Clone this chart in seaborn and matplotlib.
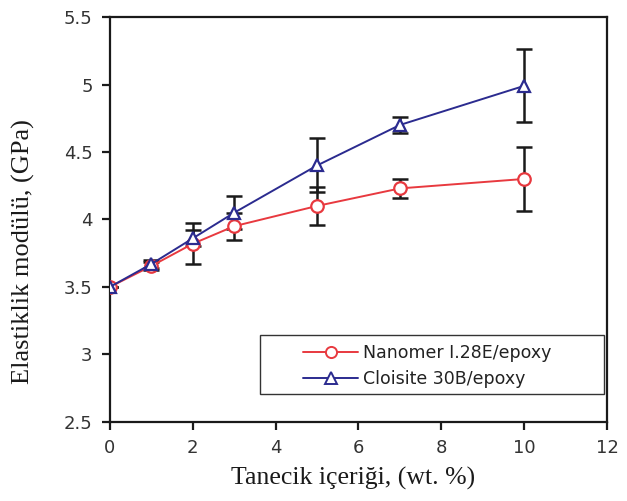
import matplotlib
matplotlib.use("Agg")
import matplotlib.pyplot as plt
from matplotlib.lines import Line2D
from matplotlib.patches import Rectangle
import seaborn as sns
import pandas as pd

# Filler content (wt. %) and measured elastic modulus (GPa)
content = [0, 1, 2, 3, 5, 7, 10]
nanomer_mean = [3.50, 3.655, 3.82, 3.95, 4.10, 4.23, 4.30]
nanomer_err = [0.0, 0.03, 0.15, 0.10, 0.14, 0.07, 0.24]
cloisite_mean = [3.50, 3.67, 3.86, 4.05, 4.40, 4.70, 4.99]
cloisite_err = [0.0, 0.03, 0.06, 0.12, 0.20, 0.06, 0.27]

series_names = ["Nanomer I.28E/epoxy", "Cloisite 30B/epoxy"]
x_ticks = [0, 2, 4, 6, 8, 10, 12]
y_ticks = [2.5, 3, 3.5, 4, 4.5, 5, 5.5]

sns.set_theme(style="white")
plt.rcParams["font.family"] = ["DejaVu Sans"]

df = pd.concat([
    pd.DataFrame({"x": content, "y": nanomer_mean, "err": nanomer_err, "series": series_names[0]}),
    pd.DataFrame({"x": content, "y": cloisite_mean, "err": cloisite_err, "series": series_names[1]}),
])

fig = plt.figure(figsize=(6.27, 5.01), dpi=100)
ax = fig.add_axes([0.1754, 0.158, 0.7927, 0.808])

colors = {series_names[0]: "#e8393f", series_names[1]: "#2b2b8f"}
markers = {series_names[0]: "o", series_names[1]: "^"}

sns.lineplot(data=df, x="x", y="y", hue="series", style="series",
             palette=colors, markers=markers, dashes=False,
             markersize=9, linewidth=1.4, ax=ax, zorder=3, legend=False)
for line, name in zip(list(ax.get_lines()), series_names):
    line.set_markerfacecolor("white")
    line.set_markeredgecolor(colors[name])
    line.set_markeredgewidth(1.6)

# error bars drawn beneath the markers
for name, sub in df.groupby("series", sort=False):
    ax.errorbar(sub["x"], sub["y"], yerr=sub["err"], fmt="none",
                ecolor="#1a1a1a", elinewidth=1.8, capsize=5.5, capthick=1.8, zorder=2)

ax.set_xlim(0, 12)
ax.set_ylim(2.5, 5.5)
ax.set_xticks(x_ticks)
ax.set_xticklabels([str(v) for v in x_ticks])
ax.set_yticks(y_ticks)
ax.set_yticklabels([f"{v:g}" for v in y_ticks])

# legend: boxed frame with the entries set inside it
ax.add_patch(Rectangle((0.302, 0.069), 0.692, 0.146, transform=ax.transAxes,
                       fill=True, facecolor="white", edgecolor="#333333",
                       linewidth=1.0, zorder=4))
handles = [Line2D([0], [0], color=colors[n], marker=markers[n], markersize=8,
                  markerfacecolor="white", markeredgecolor=colors[n],
                  markeredgewidth=1.4, linewidth=1.4) for n in series_names]
leg = ax.legend(handles, series_names, loc="center left",
                bbox_to_anchor=(0.388, 0.138), frameon=False, fontsize=12.5,
                handlelength=3.2, handletextpad=0.25, borderpad=0,
                labelspacing=0.5, borderaxespad=0)
leg.set_zorder(5)
for t in leg.get_texts():
    t.set_color("#222222")

for s in ax.spines.values():
    s.set_color("#1a1a1a")
    s.set_linewidth(1.6)
ax.tick_params(axis="both", direction="out", length=6, width=1.6,
               color="#1a1a1a", labelsize=13, labelcolor="#333333",
               bottom=True, left=True, top=False, right=False, pad=6.5)

serif = ["Liberation Serif", "DejaVu Serif"]
ax.set_xlabel("Tanecik içeriği, (wt. %)", fontsize=18.5, family=serif, color="#1a1a1a")
ax.set_ylabel("Elastiklik modülü, (GPa)", fontsize=19, family=serif, color="#1a1a1a")
ax.xaxis.set_label_coords(0.49, -0.112)
ax.yaxis.set_label_coords(-0.15, 0.42)

fig.savefig("out.png", dpi=100)
